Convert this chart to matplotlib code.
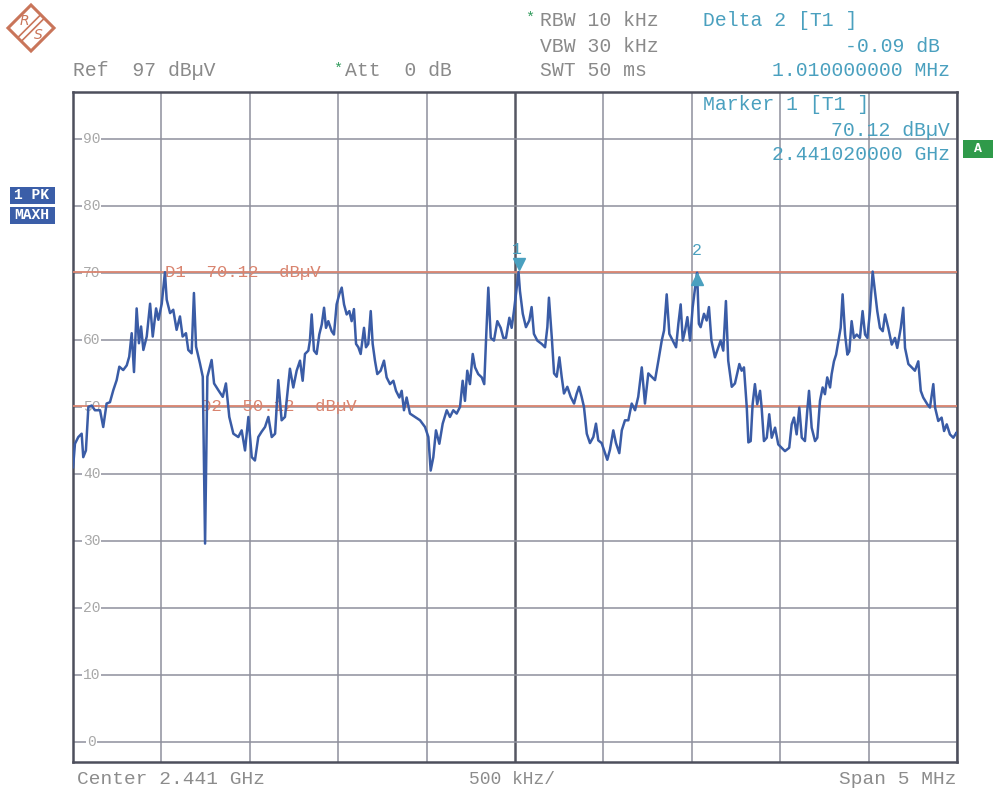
import matplotlib
matplotlib.use("Agg")
import matplotlib.pyplot as plt
from matplotlib.patches import Polygon, Rectangle
import numpy as np

# ---------------- data ----------------
# frequency offset from centre 2.441 GHz, in MHz
freq_mhz = [
    -2.500, -2.498, -2.489, -2.470, -2.451, -2.442, -2.427, -2.413, -2.394, -2.376, -2.347, -2.329,
    -2.310, -2.291, -2.272, -2.253, -2.238, -2.216, -2.196, -2.182, -2.168, -2.155, -2.140, -2.127,
    -2.115, -2.102, -2.083, -2.064, -2.049, -2.030, -2.017, -1.998, -1.980, -1.970, -1.951, -1.933,
    -1.914, -1.895, -1.880, -1.861, -1.848, -1.829, -1.816, -1.804, -1.782, -1.766, -1.753, -1.740,
    -1.716, -1.702, -1.678, -1.653, -1.635, -1.616, -1.593, -1.565, -1.546, -1.527, -1.508, -1.489,
    -1.471, -1.452, -1.433, -1.414, -1.395, -1.376, -1.357, -1.339, -1.320, -1.301, -1.273, -1.254,
    -1.235, -1.216, -1.201, -1.188, -1.169, -1.160, -1.150, -1.137, -1.122, -1.107, -1.093, -1.080,
    -1.069, -1.056, -1.037, -1.024, -1.009, -0.994, -0.980, -0.967, -0.952, -0.937, -0.924, -0.911,
    -0.899, -0.886, -0.873, -0.854, -0.843, -0.830, -0.816, -0.805, -0.792, -0.779, -0.760, -0.741,
    -0.726, -0.707, -0.688, -0.673, -0.654, -0.641, -0.628, -0.613, -0.594, -0.566, -0.537, -0.509,
    -0.490, -0.477, -0.462, -0.447, -0.428, -0.409, -0.386, -0.368, -0.349, -0.330, -0.311, -0.296,
    -0.283, -0.270, -0.255, -0.239, -0.226, -0.208, -0.188, -0.174, -0.164, -0.151, -0.137, -0.119,
    -0.100, -0.081, -0.066, -0.051, -0.032, -0.019, -0.006, 0.010, 0.020, 0.028, 0.044, 0.062,
    0.081, 0.094, 0.107, 0.126, 0.151, 0.170, 0.183, 0.192, 0.208, 0.221, 0.236, 0.251,
    0.264, 0.277, 0.296, 0.315, 0.334, 0.349, 0.362, 0.377, 0.390, 0.406, 0.424, 0.443,
    0.458, 0.471, 0.490, 0.509, 0.522, 0.537, 0.556, 0.571, 0.590, 0.604, 0.622, 0.641,
    0.660, 0.679, 0.697, 0.717, 0.735, 0.754, 0.773, 0.792, 0.811, 0.830, 0.843, 0.858,
    0.873, 0.892, 0.911, 0.924, 0.937, 0.949, 0.962, 0.975, 0.990, 1.005, 1.022, 1.030,
    1.040, 1.050, 1.069, 1.084, 1.097, 1.111, 1.131, 1.150, 1.163, 1.178, 1.193, 1.206,
    1.226, 1.244, 1.269, 1.282, 1.295, 1.311, 1.320, 1.333, 1.344, 1.357, 1.370, 1.386,
    1.395, 1.408, 1.424, 1.438, 1.452, 1.471, 1.489, 1.508, 1.527, 1.551, 1.565, 1.578,
    1.593, 1.608, 1.622, 1.640, 1.653, 1.663, 1.678, 1.697, 1.710, 1.725, 1.740, 1.753,
    1.766, 1.782, 1.791, 1.804, 1.816, 1.829, 1.842, 1.853, 1.867, 1.880, 1.891, 1.904,
    1.917, 1.933, 1.951, 1.966, 1.980, 1.993, 2.008, 2.023, 2.036, 2.049, 2.064, 2.080,
    2.093, 2.111, 2.131, 2.149, 2.162, 2.182, 2.196, 2.206, 2.225, 2.244, 2.262, 2.281,
    2.295, 2.309, 2.332, 2.347, 2.366, 2.376, 2.394, 2.413, 2.427, 2.442, 2.460, 2.479,
    2.498, 2.500,
]
level_dbuv = [
    41.0, 41.5, 44.5, 45.5, 46.0, 42.5, 43.5, 50.0, 50.2, 49.5, 49.5, 47.0,
    50.5, 50.7, 52.5, 54.0, 56.0, 55.5, 56.2, 57.5, 61.0, 55.2, 64.7, 59.5,
    62.0, 58.5, 60.5, 65.4, 60.5, 64.7, 63.0, 65.4, 70.1, 66.0, 64.0, 64.5,
    61.5, 63.5, 60.5, 61.0, 58.5, 58.0, 67.0, 59.0, 56.5, 54.5, 29.6, 54.5,
    57.0, 53.5, 52.5, 51.5, 53.5, 48.5, 46.0, 45.5, 46.5, 43.5, 48.5, 42.5,
    42.0, 45.5, 46.3, 47.0, 48.5, 45.5, 46.0, 54.0, 48.0, 48.5, 55.7, 52.9,
    55.4, 56.9, 53.9, 57.9, 58.4, 59.9, 63.8, 58.4, 57.9, 60.8, 62.3, 64.8,
    61.8, 62.8, 61.3, 60.8, 65.3, 66.8, 67.8, 65.3, 63.8, 64.3, 62.8, 64.6,
    59.4, 58.9, 57.9, 61.8, 58.9, 59.4, 64.3, 59.4, 56.9, 54.9, 55.4, 56.9,
    54.4, 53.4, 53.9, 52.4, 51.4, 52.4, 49.5, 51.4, 49.0, 48.5, 48.0, 47.0,
    45.5, 40.5, 42.5, 46.5, 44.5, 47.5, 49.5, 48.5, 49.5, 49.0, 50.0, 53.9,
    50.9, 55.4, 53.4, 57.9, 55.9, 54.9, 54.4, 53.4, 59.9, 67.8, 60.3, 59.9,
    62.8, 61.8, 60.3, 60.3, 63.3, 61.8, 64.3, 67.8, 70.12, 67.3, 63.9, 61.9,
    62.9, 64.9, 60.9, 59.9, 59.4, 58.9, 61.9, 66.3, 60.4, 55.0, 54.5, 57.4,
    54.5, 52.0, 53.0, 51.5, 50.5, 52.0, 53.0, 51.5, 50.0, 46.0, 44.6, 45.5,
    47.5, 45.0, 44.6, 43.1, 42.1, 43.6, 46.5, 44.6, 43.1, 46.5, 48.0, 48.0,
    50.5, 49.5, 51.5, 55.9, 50.5, 55.0, 54.5, 54.0, 56.9, 59.9, 61.4, 66.8,
    60.9, 59.9, 58.9, 62.4, 65.3, 59.9, 61.4, 63.4, 59.9, 64.9, 68.5, 70.03,
    62.4, 61.9, 63.9, 62.9, 64.9, 59.9, 57.4, 58.9, 59.9, 58.4, 65.8, 56.9,
    53.0, 53.5, 56.4, 55.4, 55.9, 49.9, 44.7, 44.9, 50.4, 53.4, 50.4, 52.4,
    49.9, 44.9, 45.4, 48.9, 45.4, 46.9, 44.4, 43.9, 43.4, 43.9, 47.4, 48.4,
    45.9, 49.9, 45.4, 44.9, 49.4, 52.4, 46.9, 44.9, 45.4, 50.9, 52.9, 51.9,
    54.4, 52.9, 54.9, 56.8, 57.8, 59.8, 61.8, 66.8, 60.8, 57.8, 58.3, 62.8,
    60.3, 60.8, 60.3, 64.3, 60.8, 60.3, 64.3, 70.2, 67.3, 64.3, 61.8, 61.3,
    63.8, 61.8, 59.3, 60.3, 58.8, 61.8, 64.8, 58.8, 56.4, 55.9, 55.4, 56.8,
    52.4, 51.4, 50.4, 49.9, 53.4, 49.9, 47.9, 48.4, 46.4, 47.4, 45.9, 45.4,
    46.2, 46.0,
]

ref_level = 97
y_range = 100
span_mhz = 5.0
grid_levels = [0, 10, 20, 30, 40, 50, 60, 70, 80, 90]
display_lines = {"D1": 70.12, "D2": 50.12}
marker1 = (0.020, 70.12)
marker2 = (1.030, 70.03)

# ---------------- figure ----------------
W, H = 995, 796
fig = plt.figure(figsize=(W / 100, H / 100), dpi=100)
fig.patch.set_facecolor("white")

def fx(x):
    return x / W

def fy(y):
    return 1 - y / H

L, R, T, B = 73, 957, 92, 762
ax = fig.add_axes([fx(L), fy(B), (R - L) / W, (B - T) / H])
ax.set_xlim(-span_mhz / 2, span_mhz / 2)
ax.set_ylim(ref_level - y_range, ref_level)
ax.set_xticks([])
ax.set_yticks([])
for s in ax.spines.values():
    s.set_color("#4d4f5c")
    s.set_linewidth(1.8)

GRID = "#8e909c"
MONO = "Liberation Mono"
GRAY = "#8a8a8a"
TEAL = "#4aa0bf"
RED = "#d9846f"
TRACE = "#3a5ca6"

# vertical grid
for xv in np.arange(-2.5, 2.51, 0.5):
    centre = abs(xv) < 1e-9
    ax.axvline(xv, color="#555763" if centre else GRID, lw=1.8 if centre else 1.1, zorder=1)
# horizontal grid + labels
for lv in grid_levels:
    ax.axhline(lv, color=GRID, lw=1.1, zorder=1)
    ax.text(-2.5 + 0.105, lv, str(lv), color="#a8a8a8", fontsize=10.5, family=MONO,
            ha="center", va="center", zorder=2,
            bbox=dict(facecolor="white", edgecolor="none", pad=0.5))

# display lines
for name, lv in display_lines.items():
    ax.axhline(lv, color=RED, lw=1.3, zorder=3)
x_d1 = -2.5 + (165 - L) / (R - L) * span_mhz
x_d2 = -2.5 + (201 - L) / (R - L) * span_mhz
ax.text(x_d1, display_lines["D1"], "D1  70.12  dBµV", color=RED, fontsize=12.5, family=MONO,
        ha="left", va="center", zorder=3)
ax.text(x_d2, display_lines["D2"], "D2  50.12  dBµV", color=RED, fontsize=12.5, family=MONO,
        ha="left", va="center", zorder=3)

# trace
ax.plot(freq_mhz, level_dbuv, color=TRACE, lw=1.8, zorder=4, solid_joinstyle="round")

# markers
ax.plot([marker1[0]], [marker1[1] + 1.2], marker="v", color=TEAL, ms=8, zorder=5, mec=TEAL)
ax.text(marker1[0] - 0.01, marker1[1] + 3.3, "1", color=TEAL, fontsize=12, family=MONO,
        ha="center", va="center", zorder=5)
ax.plot([marker2[0]], [marker2[1] - 0.9], marker="^", color=TEAL, ms=8, zorder=5, mec=TEAL)
ax.text(marker2[0], marker2[1] + 3.3, "2", color=TEAL, fontsize=12, family=MONO,
        ha="center", va="center", zorder=5)

# ---------------- header texts ----------------
HS = 14.2

def ftext(x, y, s, color=GRAY, ha="left", size=HS, **kw):
    fig.text(fx(x), fy(y), s, color=color, ha=ha, va="center", fontsize=size, family=MONO, **kw)

ftext(73, 71, "Ref  97 dBµV")
ftext(333, 69, "*", color="#2f9a5a", size=11)
ftext(345, 71, "Att  0 dB")
ftext(525, 18, "*", color="#2f9a5a", size=11)
ftext(540, 20, "RBW 10 kHz")
ftext(540, 46, "VBW 30 kHz")
ftext(540, 71, "SWT 50 ms")
ftext(703, 20, "Delta 2 [T1 ]", color=TEAL)
ftext(940, 46, "-0.09 dB", color=TEAL, ha="right")
ftext(950, 71, "1.010000000 MHz", color=TEAL, ha="right")
ftext(703, 105, "Marker 1 [T1 ]", color=TEAL)
ftext(950, 130, "70.12 dBµV", color=TEAL, ha="right")
ftext(950, 155, "2.441020000 GHz", color=TEAL, ha="right")

# bottom texts
ftext(77, 779, "Center 2.441 GHz", color="#8c8c8c", size=14)
ftext(512, 779, "500 kHz/", color="#8c8c8c", ha="center", size=13)
ftext(957, 779, "Span 5 MHz", color="#8c8c8c", ha="right", size=14)

# boxes: "A", "1 PK", "MAXH"
fig.patches.append(Rectangle((fx(963), fy(158)), 30 / W, 18 / H, transform=fig.transFigure,
                             facecolor="#2f9a4a", edgecolor="none"))
fig.text(fx(978), fy(149), "A", color="white", ha="center", va="center", fontsize=9.5,
         family=MONO, weight="bold")
fig.patches.append(Rectangle((fx(10), fy(204)), 45 / W, 17 / H, transform=fig.transFigure,
                             facecolor="#3b5ea8", edgecolor="none"))
fig.patches.append(Rectangle((fx(10), fy(224)), 45 / W, 17 / H, transform=fig.transFigure,
                             facecolor="#3b5ea8", edgecolor="none"))
fig.text(fx(32), fy(195), "1 PK", color="white", ha="center", va="center", fontsize=10.5,
         family=MONO, weight="bold")
fig.text(fx(32), fy(215), "MAXH", color="white", ha="center", va="center", fontsize=10.5,
         family=MONO, weight="bold")

# R&S logo
cx, cy, r = 31, 28, 23
LOGO = "#c9755a"
diamond = [(fx(cx), fy(cy - r)), (fx(cx + r), fy(cy)), (fx(cx), fy(cy + r)), (fx(cx - r), fy(cy))]
fig.patches.append(Polygon(diamond, closed=True, transform=fig.transFigure, facecolor="white",
                           edgecolor=LOGO, lw=2.2))
for d in (-1.8, 1.8):
    fig.lines.append(plt.Line2D([fx(cx - r / 2 + d), fx(cx + r / 2 + d)],
                                [fy(cy + r / 2 + d), fy(cy - r / 2 + d)],
                                transform=fig.transFigure, color=LOGO, lw=1.2))
fig.text(fx(cx - 7), fy(cy - 7), "R", color=LOGO, fontsize=10, ha="center", va="center",
         family="DejaVu Sans", style="italic")
fig.text(fx(cx + 7), fy(cy + 7), "S", color=LOGO, fontsize=10, ha="center", va="center",
         family="DejaVu Sans", style="italic")

fig.savefig("out.png", dpi=100)
